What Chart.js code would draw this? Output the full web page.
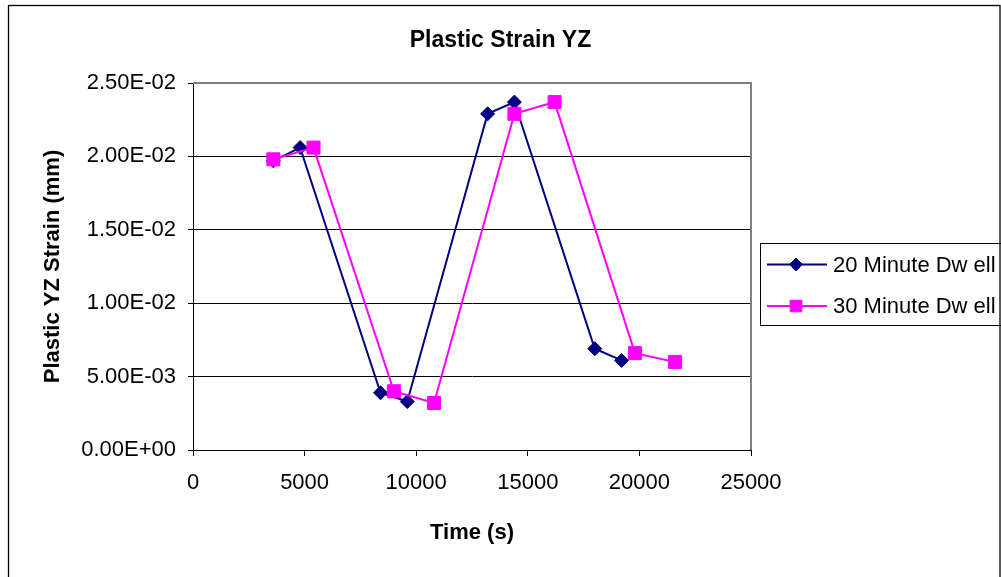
<!DOCTYPE html>
<html>
<head>
<meta charset="utf-8">
<script src="https://cdn.jsdelivr.net/npm/chart.js@4/dist/chart.umd.min.js"></script>
<style>
  html, body { margin: 0; padding: 0; background: #ffffff; }
  #wrap { width: 1001px; height: 577px; }
</style>
</head>
<body>
<div id="wrap"><canvas id="chart" width="1001" height="577"></canvas></div>
<script>
// Time stamps (s) and plastic YZ strain for each dwell period
const times20 = [3600, 4800, 8400, 9600, 13200, 14400, 18000, 19200];
const strain20 = [0.0197, 0.0206, 0.0039, 0.0033, 0.0229, 0.0237, 0.0069, 0.0061];
const times30 = [3600, 5400, 9000, 10800, 14400, 16200, 19800, 21600];
const strain30 = [0.0198, 0.0206, 0.0040, 0.0032, 0.0229, 0.0237, 0.0066, 0.0060];

const seriesNames = ['20 Minute Dw ell', '30 Minute Dw ell'];
const chartTitle = 'Plastic Strain YZ';
const xTitle = 'Time (s)';
const yTitle = 'Plastic YZ Strain (mm)';

const xTicks = [0, 5000, 10000, 15000, 20000, 25000];
const yTicks = [0, 0.005, 0.01, 0.015, 0.02, 0.025];

const FONT = '"Liberation Sans", Arial, Helvetica, sans-serif';

function toPoints(xs, ys) {
  return xs.map((x, i) => ({ x: x, y: ys[i] }));
}

// 2.50E-02 style labels
function sci(v) {
  const parts = Number(v).toExponential(2).split('e');
  const exp = parseInt(parts[1], 10);
  const sign = exp < 0 ? '-' : '+';
  const digits = String(Math.abs(exp)).padStart(2, '0');
  return parts[0] + 'E' + sign + digits;
}

const yMax = yTicks[yTicks.length - 1];

// Page frame, plot frame and legend box
const framePlugin = {
  id: 'frame',
  afterLayout(chart) {
    // centre the title across the whole page, not just the plot
    const t = chart.titleBlock;
    if (t) {
      t.left = 0;
      t.right = chart.width;
      t.width = chart.width;
    }
  },
  beforeDraw(chart) {
    const ctx = chart.ctx;
    ctx.save();
    ctx.fillStyle = '#ffffff';
    ctx.fillRect(0, 0, chart.width, chart.height);
    ctx.strokeStyle = '#000000';
    ctx.lineWidth = 1.3;
    ctx.strokeRect(8.5, 5.5, 991.5, 600);
    ctx.restore();
  },
  beforeDatasetsDraw(chart) {
    const { ctx, chartArea } = chart;
    ctx.save();
    ctx.strokeStyle = '#808080';
    ctx.lineWidth = 2;
    ctx.beginPath();
    ctx.moveTo(chartArea.left, chartArea.top);
    ctx.lineTo(chartArea.right, chartArea.top);
    ctx.lineTo(chartArea.right, chartArea.bottom);
    ctx.stroke();
    ctx.restore();
  },
  afterDraw(chart) {
    const ctx = chart.ctx;
    ctx.save();
    ctx.strokeStyle = '#000000';
    ctx.lineWidth = 1;
    ctx.strokeRect(760.5, 243.5, 245, 82);
    const rows = [264.5, 306];
    chart.data.datasets.forEach((ds, i) => {
      const y = rows[i];
      ctx.strokeStyle = ds.borderColor;
      ctx.lineWidth = 2;
      ctx.beginPath();
      ctx.moveTo(767, y);
      ctx.lineTo(827, y);
      ctx.stroke();
      ctx.fillStyle = ds.pointBackgroundColor;
      ctx.strokeStyle = ds.pointBorderColor;
      ctx.lineWidth = 1;
      Chart.helpers.drawPoint(ctx, {
        pointStyle: ds.pointStyle,
        radius: ds.pointStyle === 'rect' ? 8.2 : 6.5,
        rotation: 0,
        borderWidth: 1
      }, 796, y);
      ctx.fillStyle = '#000000';
      ctx.font = '22px ' + FONT;
      ctx.textBaseline = 'middle';
      ctx.textAlign = 'left';
      ctx.fillText(ds.label, 833, y + 1);
    });
    ctx.restore();
  }
};

new Chart(document.getElementById('chart'), {
  type: 'scatter',
  data: {
    datasets: [
      {
        label: seriesNames[0],
        data: toPoints(times20, strain20),
        showLine: true,
        borderColor: '#000080',
        borderWidth: 2,
        pointStyle: 'rectRot',
        pointRadius: 7,
        pointBorderWidth: 1,
        pointBackgroundColor: '#000080',
        pointBorderColor: '#000080',
        order: 2
      },
      {
        label: seriesNames[1],
        data: toPoints(times30, strain30),
        showLine: true,
        borderColor: '#FF00FF',
        borderWidth: 2,
        pointStyle: 'rect',
        pointRadius: 9.2,
        pointBorderWidth: 1,
        pointBackgroundColor: '#FF00FF',
        pointBorderColor: '#FF00FF',
        order: 1
      }
    ]
  },
  options: {
    responsive: false,
    animation: false,
    devicePixelRatio: 1,
    layout: { padding: { left: 0, top: 0, right: 250, bottom: 0 } },
    plugins: {
      legend: { display: false },
      tooltip: { enabled: false },
      title: {
        display: true,
        text: chartTitle,
        color: '#000000',
        font: { family: FONT, size: 23, weight: 'bold' },
        padding: { top: 27, bottom: 28.4 }
      }
    },
    scales: {
      x: {
        type: 'linear',
        min: 0,
        max: 25000,
        afterFit(scale) { scale.height = 127; },
        afterBuildTicks(scale) { scale.ticks = xTicks.map(v => ({ value: v })); },
        ticks: {
          color: '#000000',
          font: { family: FONT, size: 22 },
          padding: 14,
          maxRotation: 0,
          callback: v => String(v)
        },
        grid: {
          drawOnChartArea: false,
          drawTicks: true,
          tickLength: 6,
          tickColor: '#000000',
          color: '#000000'
        },
        border: { display: true, color: '#000000', width: 1 },
        title: {
          display: true,
          text: xTitle,
          color: '#000000',
          font: { family: FONT, size: 22, weight: 'bold' },
          padding: { top: 0, bottom: 31 }
        }
      },
      y: {
        type: 'linear',
        min: 0,
        max: yMax,
        afterFit(scale) { scale.width = 193; },
        afterBuildTicks(scale) { scale.ticks = yTicks.map(v => ({ value: v })); },
        ticks: {
          color: '#000000',
          font: { family: FONT, size: 22 },
          padding: 12,
          callback: v => sci(v)
        },
        grid: {
          drawOnChartArea: true,
          drawTicks: true,
          tickLength: 5,
          tickColor: '#000000',
          lineWidth: 1,
          color: c => (c.tick && Math.abs(c.tick.value - yMax) < 1e-9) ? 'rgba(0,0,0,0)' : '#000000'
        },
        border: { display: true, color: '#000000', width: 1 },
        title: {
          display: true,
          text: yTitle,
          color: '#000000',
          font: { family: FONT, size: 22, weight: 'bold' },
          padding: { top: 40, bottom: 0 }
        }
      }
    }
  },
  plugins: [framePlugin]
});
</script>
</body>
</html>
